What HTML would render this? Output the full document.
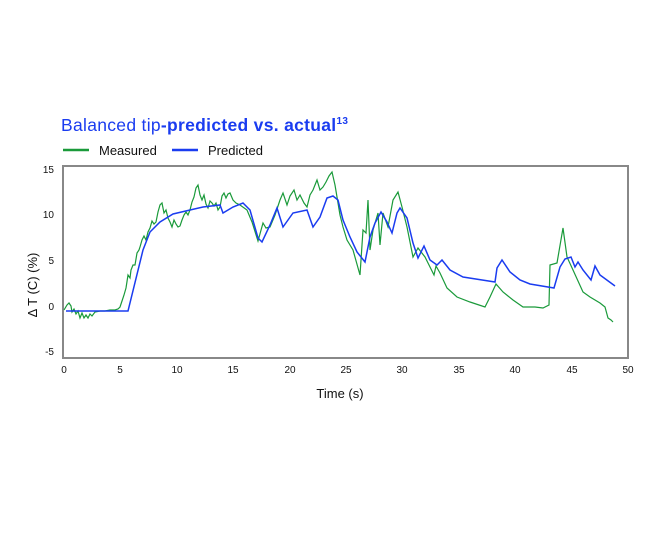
<!DOCTYPE html>
<html><head><meta charset="utf-8"><style>
body{margin:0;background:#fff;width:645px;height:534px;overflow:hidden}
svg text{font-family:"Liberation Sans",sans-serif}
</style></head><body>
<svg width="645" height="534" viewBox="0 0 645 534">
<text x="61" y="131" font-size="17.5" fill="#1a3cf0" letter-spacing="0.3">Balanced tip<tspan font-weight="bold">-predicted vs. actual</tspan><tspan font-size="10" dy="-7" font-weight="bold">13</tspan></text>
<line x1="63" y1="150" x2="89" y2="150" stroke="#1a9a3a" stroke-width="2.5"/>
<text x="99" y="155" font-size="13" fill="#111">Measured</text>
<line x1="172" y1="150" x2="198" y2="150" stroke="#1a3cf0" stroke-width="2.5"/>
<text x="208" y="155" font-size="13" fill="#111">Predicted</text>
<rect x="63" y="166" width="565" height="192" fill="none" stroke="#888" stroke-width="2"/>
<g font-size="10" fill="#111" text-anchor="end">
<text x="54" y="173">15</text><text x="54" y="218">10</text><text x="54" y="264">5</text><text x="54" y="310">0</text><text x="54" y="355">-5</text>
</g>
<g font-size="10" fill="#111" text-anchor="middle">
<text x="64" y="373">0</text><text x="120" y="373">5</text><text x="177" y="373">10</text><text x="233" y="373">15</text><text x="290" y="373">20</text><text x="346" y="373">25</text><text x="402" y="373">30</text><text x="459" y="373">35</text><text x="515" y="373">40</text><text x="572" y="373">45</text><text x="628" y="373">50</text>
</g>
<text x="340" y="398" font-size="13" fill="#111" text-anchor="middle">Time (s)</text>
<text transform="translate(37,285) rotate(-90)" font-size="13" fill="#111" text-anchor="middle">Δ T (C) (%)</text>
<polyline fill="none" stroke="#1a9a3a" stroke-width="1.2" points="64,310 67,305 69,303 71,306 72,312 74,309 76,314 78,311 80,318 82,313 84,318 86,315 88,318 90,314 92,316 95,312 100,311 105,311 110,310 115,310 118,309 120,307 122,301 124,295 126,288 128,275 130,278 131,270 133,265 135,265 137,253 139,250 140,247 142,240 144,236 146,240 148,232 150,228 152,221 154,224 156,222 158,212 160,205 162,203 164,213 166,210 168,218 170,222 172,227 174,220 176,224 178,227 180,226 182,220 184,215 186,212 188,215 190,210 192,202 194,197 196,188 198,185 200,195 202,200 204,195 206,204 208,208 210,201 212,203 214,206 216,203 218,210 220,207 222,196 224,193 226,198 228,194 230,193 233,200 236,203 240,205 247,210 252,222 258,241 263,223 266,228 270,227 275,215 280,200 283,193 287,205 290,196 294,190 297,200 300,195 304,203 307,207 310,195 313,190 317,180 320,190 323,187 326,182 329,176 332,172 335,185 337,197 340,215 343,227 347,240 353,250 360,275 363,230 366,233 368,200 370,250 373,230 378,213 380,245 383,213 388,227 393,200 398,192 402,207 407,227 413,257 418,248 425,257 430,267 434,275 436,266 440,273 447,288 457,297 470,302 485,307 490,297 496,284 503,292 513,300 523,307 535,307 543,308 549,305 550,265 557,263 563,228 567,257 573,270 583,292 590,297 600,303 605,307 608,318 611,320 613,322"/>
<polyline fill="none" stroke="#1a3cf0" stroke-width="1.5" points="66,311 128,311 143,250 150,232 160,222 173,214 190,210 203,207 220,205 223,213 233,207 243,203 250,210 258,238 262,242 270,225 277,208 283,227 293,213 307,210 313,227 320,217 327,198 333,196 338,200 343,220 350,237 357,252 365,262 370,237 375,223 381,212 387,222 392,233 397,213 400,208 407,218 413,243 418,258 424,246 430,260 437,265 442,260 450,270 463,277 495,282 497,268 502,260 510,272 520,280 530,284 554,288 560,267 565,259 571,257 575,267 578,262 583,270 591,280 595,266 600,275 615,286"/>
</svg>
</body></html>
